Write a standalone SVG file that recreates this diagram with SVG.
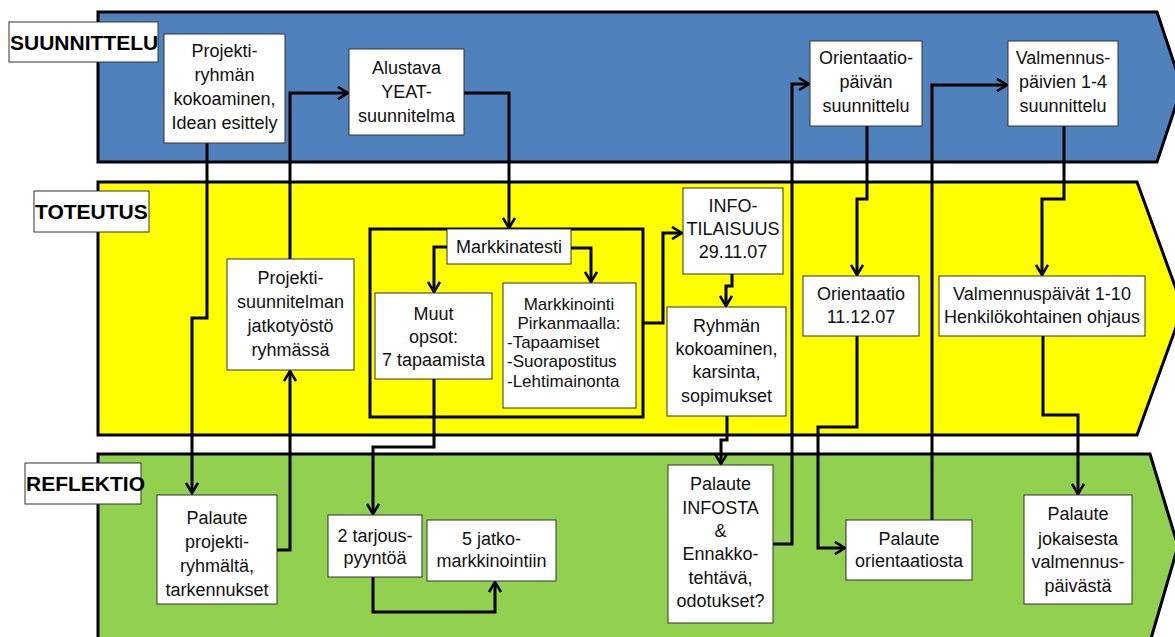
<svg xmlns="http://www.w3.org/2000/svg" width="1175" height="637" viewBox="0 0 1175 637">
<style>
.band{stroke:#000;stroke-width:3;stroke-linejoin:miter}
.lab{fill:#fff;stroke:#333;stroke-width:1}
.labt{font-family:"Liberation Sans",Arial,sans-serif;font-weight:bold;font-size:21px;fill:#000}
.box{fill:#fff;stroke:#333;stroke-width:1}
.t{font-family:"Liberation Sans",Arial,sans-serif;font-size:18px;fill:#111;text-anchor:middle}
.ts{font-family:"Liberation Sans",Arial,sans-serif;font-size:17px;fill:#111}
.c{fill:none;stroke:#000;stroke-width:3;stroke-linejoin:miter}
</style>
<defs>
<marker id="ah" viewBox="0 0 14 14" refX="12" refY="7" markerWidth="14" markerHeight="14" markerUnits="userSpaceOnUse" orient="auto">
<path d="M2,1 L12,7 L2,13" fill="none" stroke="#000" stroke-width="2.6"/>
</marker>
</defs>
<rect width="1175" height="637" fill="#fff"/>
<g id="bands">
<polygon class="band" fill="#4f81bd" points="98,12 1157,12 1182,87 1157,162 98,162"/>
<polygon class="band" fill="#ffff00" points="98,182 1137,182 1183,308 1137,435 98,435"/>
<polygon class="band" fill="#92d050" points="98,454 1150,454 1178,546 1150,642 98,642"/>
</g>
<g id="lane-labels">
<g id="lbl-suunnittelu"><rect class="lab" x="9" y="22" width="149" height="40"/><text class="labt" x="10" y="50">SUUNNITTELU</text></g>
<g id="lbl-toteutus"><rect class="lab" x="34" y="191" width="115" height="41"/><text class="labt" x="35" y="219">TOTEUTUS</text></g>
<g id="lbl-reflektio"><rect class="lab" x="25" y="463" width="116" height="41"/><text class="labt" x="26" y="491">REFLEKTIO</text></g>
</g>
<g id="markkinatesti-frame"><rect x="370" y="229" width="273" height="188" fill="none" stroke="#000" stroke-width="3"/></g>
<g id="connectors">
<path class="c" d="M207,143 V318 H192 V493" marker-end="url(#ah)"/>
<path class="c" d="M277,550 H290 V371" marker-end="url(#ah)"/>
<path class="c" d="M290,259 V93 H348" marker-end="url(#ah)"/>
<path class="c" d="M464,93 H509 V228" marker-end="url(#ah)"/>
<path class="c" d="M447,247 H434 V292" marker-end="url(#ah)"/>
<path class="c" d="M571,248 H591 V282" marker-end="url(#ah)"/>
<path class="c" d="M643,323 H663 V233 H682" marker-end="url(#ah)"/>
<path class="c" d="M732,274 V286 H726 V306" marker-end="url(#ah)"/>
<path class="c" d="M434,379 V447 H373 V514" marker-end="url(#ah)"/>
<path class="c" d="M373,577 V612 H495 V582" marker-end="url(#ah)"/>
<path class="c" d="M727,416 V440 H721 V464" marker-end="url(#ah)"/>
<path class="c" d="M773,544 H792 V84 H809" marker-end="url(#ah)"/>
<path class="c" d="M867,126 V199 H857 V275" marker-end="url(#ah)"/>
<path class="c" d="M857,336 V427 H818 V548 H845" marker-end="url(#ah)"/>
<path class="c" d="M932,520 V85 H1007" marker-end="url(#ah)"/>
<path class="c" d="M1064,126 V199 H1042 V275" marker-end="url(#ah)"/>
<path class="c" d="M1043,336 V415 H1078 V494" marker-end="url(#ah)"/>
</g>
<g id="n-projektiryhma"><rect class="box" x="164" y="34" width="121" height="109"/>
<text class="t" x="224.5" y="57">Projekti-</text><text class="t" x="224.5" y="81">ryhmän</text><text class="t" x="224.5" y="105">kokoaminen,</text><text class="t" x="224.5" y="129">Idean esittely</text></g>
<g id="n-alustava"><rect class="box" x="349" y="49" width="115" height="86"/>
<text class="t" x="406.5" y="74">Alustava</text><text class="t" x="406.5" y="98">YEAT-</text><text class="t" x="406.5" y="122">suunnitelma</text></g>
<g id="n-orientaatiopaivan"><rect class="box" x="810" y="41" width="112" height="85"/>
<text class="t" x="866" y="64">Orientaatio-</text><text class="t" x="866" y="88">päivän</text><text class="t" x="866" y="112">suunnittelu</text></g>
<g id="n-valmennuspaivien"><rect class="box" x="1008" y="41" width="110" height="85"/>
<text class="t" x="1063" y="64">Valmennus-</text><text class="t" x="1063" y="88">päivien 1-4</text><text class="t" x="1063" y="112">suunnittelu</text></g>
<g id="n-projektisuunnitelma"><rect class="box" x="227" y="259" width="127" height="111"/>
<text class="t" x="290.5" y="284">Projekti-</text><text class="t" x="290.5" y="308">suunnitelman</text><text class="t" x="290.5" y="332">jatkotyöstö</text><text class="t" x="290.5" y="356">ryhmässä</text></g>
<g id="n-markkinatesti"><rect class="box" x="447" y="229" width="124" height="35"/>
<text class="t" x="509" y="253">Markkinatesti</text></g>
<g id="n-muutopsot"><rect class="box" x="375" y="293" width="117" height="86"/>
<text class="t" x="433.5" y="320">Muut</text><text class="t" x="433.5" y="343">opsot:</text><text class="t" x="433.5" y="366">7 tapaamista</text></g>
<g id="n-markkinointi"><rect class="box" x="503" y="283" width="133" height="125"/>
<text class="ts" x="569" y="310" text-anchor="middle">Markkinointi</text><text class="ts" x="569" y="329" text-anchor="middle">Pirkanmaalla:</text>
<text class="ts" x="507" y="348">-Tapaamiset</text><text class="ts" x="507" y="367">-Suorapostitus</text><text class="ts" x="507" y="387">-Lehtimainonta</text></g>
<g id="n-info"><rect class="box" x="683" y="188" width="100" height="86"/>
<text class="t" x="733" y="212">INFO-</text><text class="t" x="733" y="235">TILAISUUS</text><text class="t" x="733" y="258">29.11.07</text></g>
<g id="n-ryhman"><rect class="box" x="667" y="307" width="119" height="109"/>
<text class="t" x="726.5" y="332">Ryhmän</text><text class="t" x="726.5" y="355">kokoaminen,</text><text class="t" x="726.5" y="378">karsinta,</text><text class="t" x="726.5" y="402">sopimukset</text></g>
<g id="n-orientaatio"><rect class="box" x="803" y="276" width="116" height="60"/>
<text class="t" x="861" y="300">Orientaatio</text><text class="t" x="861" y="323">11.12.07</text></g>
<g id="n-valmennuspaivat"><rect class="box" x="939" y="276" width="206" height="60"/>
<text class="t" x="1042" y="300">Valmennuspäivät 1-10</text><text class="t" x="1042" y="323">Henkilökohtainen ohjaus</text></g>
<g id="n-palaute-projekti"><rect class="box" x="157" y="495" width="120" height="109"/>
<text class="t" x="217" y="524">Palaute</text><text class="t" x="217" y="548">projekti-</text><text class="t" x="217" y="572">ryhmältä,</text><text class="t" x="217" y="596">tarkennukset</text></g>
<g id="n-tarjous"><rect class="box" x="328" y="515" width="94" height="62"/>
<text class="t" x="375" y="542">2 tarjous-</text><text class="t" x="375" y="564">pyyntöä</text></g>
<g id="n-jatko"><rect class="box" x="427" y="520" width="129" height="61"/>
<text class="t" x="491.5" y="545">5 jatko-</text><text class="t" x="491.5" y="567">markkinointiin</text></g>
<g id="n-palaute-info"><rect class="box" x="668" y="465" width="105" height="158"/>
<text class="t" x="720.5" y="490">Palaute</text><text class="t" x="720.5" y="513.5">INFOSTA</text><text class="t" x="720.5" y="537">&amp;</text><text class="t" x="720.5" y="560">Ennakko-</text><text class="t" x="720.5" y="583.5">tehtävä,</text><text class="t" x="720.5" y="607">odotukset?</text></g>
<g id="n-palaute-orientaatio"><rect class="box" x="846" y="520" width="126" height="60"/>
<text class="t" x="909" y="545">Palaute</text><text class="t" x="909" y="567">orientaatiosta</text></g>
<g id="n-palaute-jokaisesta"><rect class="box" x="1024" y="495" width="108" height="109"/>
<text class="t" x="1078" y="520">Palaute</text><text class="t" x="1078" y="545">jokaisesta</text><text class="t" x="1078" y="568">valmennus-</text><text class="t" x="1078" y="592">päivästä</text></g>
</svg>
